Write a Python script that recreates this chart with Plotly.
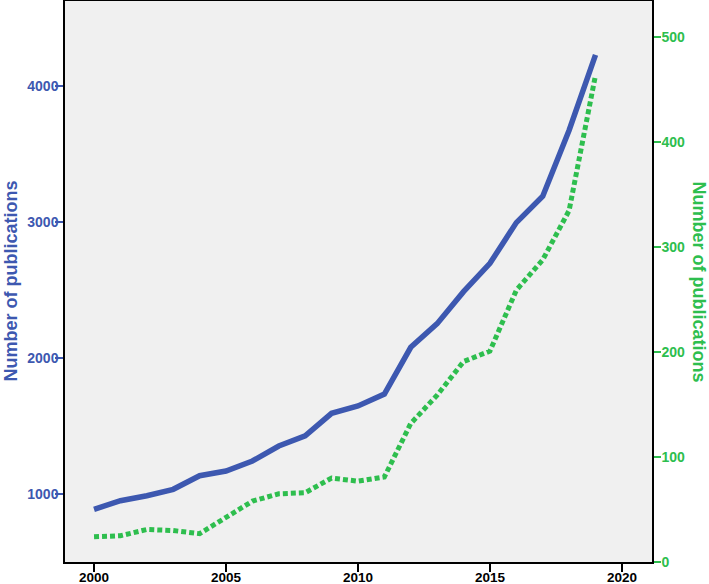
import plotly.graph_objects as go

years = list(range(2000, 2020))
pubs_blue = [890, 953, 990, 1037, 1137, 1171, 1245, 1355, 1430, 1595,
             1649, 1737, 2080, 2254, 2489, 2697, 2996, 3190, 3675, 4228]
pubs_green = [24, 25, 31, 30, 27, 42, 58, 65, 66, 80,
              77, 81, 132, 159, 191, 201, 259, 288, 335, 464]
x_ticks = [2000, 2005, 2010, 2015, 2020]
left_ticks = [1000, 2000, 3000, 4000]
right_ticks = [0, 100, 200, 300, 400, 500]
axis_title = "Number of publications"

BLUE = "#3D58B0"
GREEN = "#2EBE4E"
FONT = "Liberation Sans, Arial, sans-serif"

fig = go.Figure()
fig.add_trace(go.Scatter(x=years, y=pubs_blue, mode="lines",
                         line=dict(color=BLUE, width=5.5), yaxis="y",
                         showlegend=False, hoverinfo="skip"))
fig.add_trace(go.Scatter(x=years, y=pubs_green, mode="lines",
                         line=dict(color=GREEN, width=5, dash="5px,3px"),
                         yaxis="y2", showlegend=False, hoverinfo="skip"))

fig.update_layout(
    width=709, height=584,
    margin=dict(l=65, r=57, t=1, b=22, pad=0),
    paper_bgcolor="white", plot_bgcolor="#F0F0F0",
    xaxis=dict(range=[1998.9, 2021.14], tickvals=x_ticks,
               ticktext=[str(v) for v in x_ticks], automargin=False,
               showgrid=False, zeroline=False,
               showline=True, mirror=True, linecolor="black", linewidth=1.5,
               ticks="outside", ticklen=8, tickwidth=1.5, tickcolor="black",
               ticklabelstandoff=-6,
               tickfont=dict(family=FONT, size=13.5, color="black", weight="bold")),
    yaxis=dict(range=[503, 4624], tickvals=left_ticks, automargin=False,
               showgrid=False, zeroline=False,
               showline=True, mirror=True, linecolor="black", linewidth=1.5,
               ticks="outside", ticklen=8, tickwidth=1.5, tickcolor=BLUE,
               ticklabelstandoff=-6,
               tickfont=dict(family=FONT, size=14, color=BLUE, weight="bold")),
    yaxis2=dict(range=[0, 534.6], tickvals=right_ticks, overlaying="y",
                side="right", showgrid=False, zeroline=False, automargin=False,
                showline=True, linecolor="black", linewidth=1.5,
                ticks="outside", ticklen=7, tickwidth=1.5, tickcolor=GREEN,
                ticklabelstandoff=-2,
                tickfont=dict(family=FONT, size=14, color=GREEN, weight="bold")),
    annotations=[
        dict(text=axis_title, xref="paper", yref="paper",
             x=(10 - 65) / 587, y=0.5, xanchor="center", yanchor="middle",
             textangle=-90, showarrow=False,
             font=dict(family=FONT, size=18, color=BLUE, weight="bold")),
        dict(text=axis_title, xref="paper", yref="paper",
             x=(699 - 65) / 587, y=0.5, xanchor="center", yanchor="middle",
             textangle=90, showarrow=False,
             font=dict(family=FONT, size=18, color=GREEN, weight="bold")),
    ],
)

fig.write_html("out.html", config={"displayModeBar": False},
               post_script="document.body.style.margin='0';"
                           "document.body.style.overflow='hidden';")
